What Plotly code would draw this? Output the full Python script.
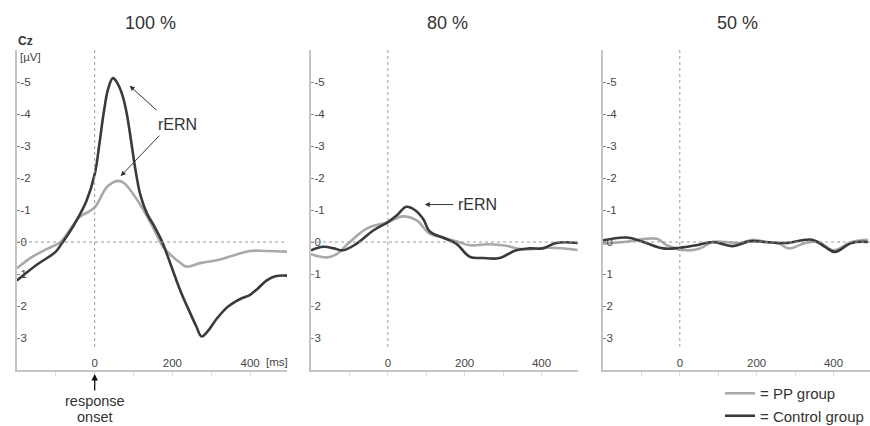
import plotly.graph_objects as go

# ---------------- data ----------------
panel_titles = ["100 %", "80 %", "50 %"]
group_names = ["= PP group", "= Control group"]

y_tick_vals = [-5, -4, -3, -2, -1, 0, 1, 2, 3]
y_tick_text = ["-5", "-4", "-3", "-2", "-1", "0", "1", "2", "3"]
x_tick_vals = [-200, -100, 0, 100, 200, 300, 400]
x_tick_text = ["", "", "0", "", "200", "", "400"]

# 100 % condition
t_pp_100 = [-200, -160, -120, -88, -60, -39, -15, 0, 30, 45, 60, 75, 90, 116, 150, 176, 200, 220, 237, 271, 314, 357, 400, 443, 495]
v_pp_100 = [0.82, 0.46, 0.2, 0.0, -0.45, -0.78, -0.95, -1.08, -1.7, -1.85, -1.91, -1.85, -1.65, -1.19, -0.46, 0.15, 0.45, 0.65, 0.77, 0.66, 0.57, 0.42, 0.28, 0.28, 0.3]
t_ct_100 = [-200, -150, -100, -85, -65, -47, -21, 0, 13, 24, 35, 47, 59, 71, 82, 95, 105, 118, 135, 155, 172, 185, 200, 215, 230, 245, 262, 275, 290, 314, 340, 357, 380, 400, 420, 443, 465, 495]
v_ct_100 = [1.2, 0.72, 0.3, 0.05, -0.3, -0.67, -1.29, -2.12, -3.15, -4.1, -4.8, -5.12, -4.95, -4.6, -4.05, -3.05, -2.25, -1.45, -0.88, -0.46, -0.05, 0.35, 0.85, 1.35, 1.8, 2.2, 2.65, 2.95, 2.8, 2.4, 2.05, 1.9, 1.75, 1.65, 1.45, 1.2, 1.07, 1.05]

# 80 % condition
t_pp_80 = [-200, -159, -133, -99, -55, 0, 39, 74, 109, 143, 178, 213, 265, 308, 351, 421, 494]
v_pp_80 = [0.38, 0.48, 0.38, 0.0, -0.42, -0.62, -0.8, -0.68, -0.26, -0.14, -0.02, 0.1, 0.07, 0.12, 0.23, 0.18, 0.25]
t_ct_80 = [-200, -168, -140, -117, -81, -38, 0, 25, 48, 70, 92, 109, 143, 178, 213, 247, 291, 334, 369, 403, 438, 494]
v_ct_80 = [0.26, 0.15, 0.2, 0.26, 0.05, -0.36, -0.62, -0.85, -1.1, -1.0, -0.72, -0.33, -0.14, 0.05, 0.46, 0.5, 0.5, 0.26, 0.2, 0.2, 0.03, 0.03]

# 50 % condition
t_pp_50 = [-200, -146, -60, -34, 17, 52, 86, 120, 155, 190, 224, 258, 284, 327, 361, 400, 447, 490]
v_pp_50 = [0.05, 0.0, -0.1, 0.1, 0.26, 0.2, 0.0, 0.0, 0.03, -0.07, 0.0, 0.05, 0.2, 0.03, 0.0, 0.26, 0.0, -0.07]
t_ct_50 = [-200, -138, -95, -43, 0, 43, 86, 137, 181, 224, 275, 344, 378, 403, 447, 490]
v_ct_50 = [-0.05, -0.14, 0.0, 0.2, 0.18, 0.1, 0.0, 0.13, -0.02, 0.0, 0.03, -0.07, 0.15, 0.31, 0.03, 0.0]

panels = [
    (t_pp_100, v_pp_100, t_ct_100, v_ct_100),
    (t_pp_80, v_pp_80, t_ct_80, v_ct_80),
    (t_pp_50, v_pp_50, t_ct_50, v_ct_50),
]

# ---------------- layout geometry ----------------
W, H = 870, 426
x_domains = [[17 / W, 287 / W], [311 / W, 578 / W], [603 / W, 1.0]]
y_domain = [1 - 370 / H, 1 - 50 / H]
x_range = [-200, 495]
y_range = [4, -6]

PP_COLOR = "#a9a9a9"
CT_COLOR = "#3a3a3a"
AX_COLOR = "#c4c4c4"
TXT = "#333333"
TICK_TXT = "#454545"
FONT = "Liberation Sans, Arial, sans-serif"

fig = go.Figure()

for i, (tp, vp, tc, vc) in enumerate(panels):
    xa = "x" if i == 0 else f"x{i + 1}"
    ya = "y" if i == 0 else f"y{i + 1}"
    fig.add_trace(go.Scatter(
        x=tp, y=vp, xaxis=xa, yaxis=ya, mode="lines",
        line=dict(color=PP_COLOR, width=2.6, shape="spline", smoothing=1.1),
        name=group_names[0], legendgroup="pp", showlegend=(i == 0),
        hoverinfo="skip"))
    fig.add_trace(go.Scatter(
        x=tc, y=vc, xaxis=xa, yaxis=ya, mode="lines",
        line=dict(color=CT_COLOR, width=2.6, shape="spline", smoothing=1.1),
        name=group_names[1], legendgroup="ct", showlegend=(i == 0),
        hoverinfo="skip"))

layout_axes = {}
for i in range(3):
    xk = "xaxis" if i == 0 else f"xaxis{i + 1}"
    yk = "yaxis" if i == 0 else f"yaxis{i + 1}"
    xa = "x" if i == 0 else f"x{i + 1}"
    ya = "y" if i == 0 else f"y{i + 1}"
    layout_axes[xk] = dict(
        domain=x_domains[i], range=x_range, anchor=ya,
        showline=True, linecolor=AX_COLOR, linewidth=1.5,
        showgrid=False, zeroline=False,
        tickmode="array", tickvals=x_tick_vals, ticktext=x_tick_text,
        ticks="outside", ticklen=4, tickcolor="#dddddd", tickwidth=1,
        ticklabelposition="inside",
        tickfont=dict(size=11.5, color=TICK_TXT, family=FONT),
        fixedrange=True)
    layout_axes[yk] = dict(
        domain=y_domain, range=y_range, anchor=xa,
        showline=True, linecolor=AX_COLOR, linewidth=1.5,
        showgrid=False, zeroline=False,
        tickmode="array", tickvals=y_tick_vals, ticktext=y_tick_text,
        ticks="inside", ticklen=3, tickcolor="#888888", tickwidth=1,
        ticklabelposition="inside",
        tickfont=dict(size=11.5, color=TICK_TXT, family=FONT),
        fixedrange=True)

shapes = []
for i in range(3):
    xa = "x" if i == 0 else f"x{i + 1}"
    ya = "y" if i == 0 else f"y{i + 1}"
    shapes.append(dict(type="line", xref=xa, yref=ya, x0=x_range[0], x1=x_range[1], y0=0, y1=0,
                       line=dict(color="#9a9a9a", width=1, dash="dot")))
    shapes.append(dict(type="line", xref=xa, yref=ya, x0=0, x1=0, y0=-6, y1=3.35,
                       line=dict(color="#9a9a9a", width=1, dash="dot")))

title_x = [150, 447, 737]
annotations = []
for i, t in enumerate(panel_titles):
    annotations.append(dict(text=t, xref="paper", yref="paper", x=title_x[i] / W, y=1 - 23 / H,
                            showarrow=False, xanchor="center", yanchor="middle",
                            font=dict(size=18, color=TXT, family=FONT)))

annotations += [
    dict(text="<b>Cz</b>", xref="paper", yref="paper", x=16 / W, y=1 - 41 / H,
         showarrow=False, xanchor="left", yanchor="middle", font=dict(size=12, color=TXT, family=FONT)),
    dict(text="[µV]", xref="paper", yref="paper", x=18 / W, y=1 - 57 / H,
         showarrow=False, xanchor="left", yanchor="middle", font=dict(size=11.5, color=TICK_TXT, family=FONT)),
    dict(text="[ms]", xref="paper", yref="paper", x=277 / W, y=1 - 362 / H,
         showarrow=False, xanchor="center", yanchor="middle", font=dict(size=11.5, color=TICK_TXT, family=FONT)),
    # rERN label & arrows, 100 %
    dict(text="rERN", xref="x", yref="y", x=214, y=-3.67, showarrow=False,
         font=dict(size=16, color=TXT, family=FONT)),
    dict(text="", xref="x", yref="y", x=90, y=-4.88, axref="x", ayref="y", ax=163, ay=-4.08,
         showarrow=True, arrowhead=2, arrowsize=1, arrowwidth=1, arrowcolor=TXT),
    dict(text="", xref="x", yref="y", x=67, y=-2.06, axref="x", ayref="y", ax=170, ay=-3.37,
         showarrow=True, arrowhead=2, arrowsize=1, arrowwidth=1, arrowcolor=TXT),
    # rERN label & arrow, 80 %
    dict(text="rERN", xref="x2", yref="y2", x=234, y=-1.17, showarrow=False,
         font=dict(size=16, color=TXT, family=FONT)),
    dict(text="", xref="x2", yref="y2", x=96, y=-1.17, axref="x2", ayref="y2", ax=174, ay=-1.17,
         showarrow=True, arrowhead=2, arrowsize=1, arrowwidth=1, arrowcolor=TXT),
    # response onset
    dict(text="", xref="x", yref="paper", x=0, y=1 - 374 / H,
         ax=0, ay=18, showarrow=True, arrowhead=2, arrowsize=1, arrowwidth=1.3, arrowcolor="#111111"),
    dict(text="response", xref="x", yref="paper", x=0, y=1 - 400.5 / H, showarrow=False,
         xanchor="center", yanchor="middle", font=dict(size=14.5, color=TXT, family=FONT)),
    dict(text="onset", xref="x", yref="paper", x=0, y=1 - 417 / H, showarrow=False,
         xanchor="center", yanchor="middle", font=dict(size=14.5, color=TXT, family=FONT)),
]

fig.update_layout(
    width=W, height=H,
    margin=dict(l=0, r=0, t=0, b=0, autoexpand=False),
    paper_bgcolor="white", plot_bgcolor="white",
    font=dict(family=FONT, color=TXT),
    shapes=shapes, annotations=annotations,
    showlegend=True,
    legend=dict(x=720 / W, xanchor="left", y=1 - 377 / H, yanchor="top",
                traceorder="grouped", tracegroupgap=0,
                bgcolor="rgba(0,0,0,0)", borderwidth=0,
                font=dict(size=15, color=TXT, family=FONT)),
    **layout_axes,
)

fig.write_html("out.html")
